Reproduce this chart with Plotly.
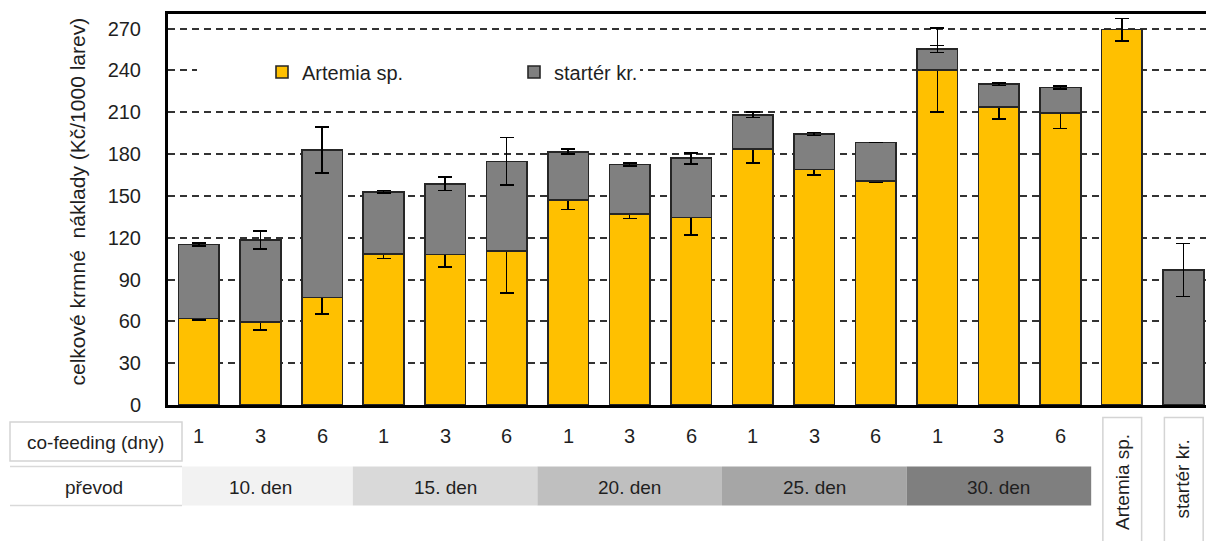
import plotly.graph_objects as go

# ---- data ----
cofeeding_days = ["1", "3", "6", "1", "3", "6", "1", "3", "6", "1", "3", "6", "1", "3", "6"]
transfer_labels = ["10. den", "15. den", "20. den", "25. den", "30. den"]
transfer_colors = ["#f2f2f2", "#d9d9d9", "#bfbfbf", "#a6a6a6", "#7f7f7f"]
control_labels = ["Artemia sp.", "startér kr."]

artemia = [62.1, 59.7, 77.2, 108.3, 108.0, 110.4, 147.2, 137.0, 134.6,
           183.8, 169.0, 160.9, 240.3, 213.8, 209.3, 269.3, None]
artemia_err = [1.0, 6.0, 12.0, 3.3, 9.0, 30.0, 7.0, 3.3, 12.7,
               10.0, 4.0, 1.0, 30.0, 8.5, 11.0, 8.0, None]
starter = [53.1, 58.8, 105.7, 44.7, 50.7, 64.4, 34.5, 35.6, 42.4,
           24.4, 25.4, 27.5, 15.1, 16.3, 18.6, None, 96.8]
starter_err = [1.0, 6.5, 16.6, 1.0, 4.7, 17.0, 1.8, 1.0, 4.0,
               2.0, 1.0, 0.0, 2.4, 1.0, 1.0, None, 19.0]

y_ticks = [0, 30, 60, 90, 120, 150, 180, 210, 240, 270]
y_title = "celkové krmné\u00a0 náklady (Kč/1000 larev)"

# ---- layout geometry ----
W, H = 1206, 541
ML, MR, MT, MB = 168, 0, 14, 136
PW = W - ML - MR
PH = H - MT - MB
FONT = "Liberation Sans, Arial, sans-serif"
TXT = "#1f1f1f"


def px_x(p):
    return (p - ML) / PW


def px_y(p):
    return (H - MB - p) / PH


cats = list(range(len(artemia)))
outline = dict(color="#262626", width=1.6)

fig = go.Figure()
fig.add_trace(go.Bar(
    x=cats, y=artemia, name="Artemia sp.",
    marker=dict(color="#FFC000", line=outline),
    error_y=dict(type="data", array=artemia_err, visible=True,
                 color="black", thickness=1.6, width=7),
))
fig.add_trace(go.Bar(
    x=cats, y=starter, name="startér kr.",
    marker=dict(color="#808080", line=outline),
    error_y=dict(type="data", array=starter_err, visible=True,
                 color="black", thickness=1.6, width=7),
))

shapes = []
# white patch behind legend (hides gridline)
shapes.append(dict(type="rect", xref="paper", yref="paper",
                   x0=px_x(197), x1=px_x(640), y0=px_y(84), y1=px_y(58),
                   fillcolor="white", line=dict(width=0), layer="above"))
# co-feeding header cell
shapes.append(dict(type="rect", xref="paper", yref="paper",
                   x0=px_x(10), x1=px_x(182), y0=px_y(461), y1=px_y(422),
                   fillcolor="white", line=dict(color="#d4d4d4", width=1.5)))
# transfer-day bands
for k, col in enumerate(transfer_colors):
    shapes.append(dict(type="rect", xref="x", yref="paper",
                       x0=3 * k - 0.5, x1=3 * k + 2.5,
                       y0=px_y(505.5), y1=px_y(466.5),
                       fillcolor=col, line=dict(width=0)))
# "převod" header cell (covers start of first band)
shapes.append(dict(type="rect", xref="paper", yref="paper",
                   x0=px_x(10), x1=px_x(182), y0=px_y(505.5), y1=px_y(466.5),
                   fillcolor="white", line=dict(width=0)))
for yy in (466.5, 505.5):
    shapes.append(dict(type="line", xref="paper", yref="paper",
                       x0=px_x(10), x1=px_x(182), y0=px_y(yy), y1=px_y(yy),
                       line=dict(color="#d9d9d9", width=1.5)))
# control boxes
for i in range(2):
    c = 15 + i
    shapes.append(dict(type="rect", xref="x", yref="paper",
                       x0=c - 0.31, x1=c + 0.32, y0=px_y(548), y1=px_y(417.5),
                       fillcolor="white", line=dict(color="#d4d4d4", width=1.5)))


def label(text, x, y, xref="paper", size=19, angle=0):
    return dict(text=text, xref=xref, yref="paper", x=x, y=y, textangle=angle,
                showarrow=False, xanchor="center", yanchor="middle",
                font=dict(size=size, color=TXT, family=FONT))


ann = []
ann.append(label(y_title, px_x(77), px_y(201.5), size=21, angle=-90))
ann.append(label("co-feeding (dny)", px_x(95), px_y(442)))
ann.append(label("převod", px_x(94), px_y(487)))
for i, t in enumerate(cofeeding_days):
    ann.append(label(t, i, px_y(436), xref="x", size=20))
for k, t in enumerate(transfer_labels):
    ann.append(label(t, 3 * k + 1, px_y(487.5), xref="x"))
for i, (t, yc) in enumerate(zip(control_labels, (482, 479))):
    ann.append(label(t, 15 + i, px_y(yc), xref="x", angle=-90))

fig.update_layout(
    width=W, height=H, autosize=False,
    margin=dict(l=ML, r=MR, t=MT, b=MB, pad=0),
    paper_bgcolor="white", plot_bgcolor="white",
    barmode="stack", bargap=0.34,
    font=dict(family=FONT, color=TXT),
    showlegend=True,
    legend=dict(orientation="h", x=px_x(262), xanchor="left",
                y=px_y(72), yanchor="middle",
                entrywidth=207, entrywidthmode="pixels",
                bgcolor="rgba(0,0,0,0)", font=dict(size=20, color=TXT, family=FONT),
                traceorder="normal"),
    xaxis=dict(range=[-0.503, 16.366], showticklabels=False, showgrid=False,
               zeroline=False, showline=True, linecolor="black", linewidth=3,
               mirror=True, ticks="", fixedrange=True),
    yaxis=dict(range=[0, 280.5], tickvals=y_ticks, showgrid=True,
               gridcolor="#333333", griddash="7px,5px", gridwidth=1.5,
               showline=True, linecolor="black", linewidth=3, ticks="",
               ticklabelstandoff=20, zeroline=False,
               tickfont=dict(size=20, color=TXT, family=FONT), fixedrange=True),
    shapes=shapes, annotations=ann,
)

fig.write_html("out.html", config={"displayModeBar": False},
               post_script="document.body.style.margin='0';document.body.style.overflow='hidden';")
